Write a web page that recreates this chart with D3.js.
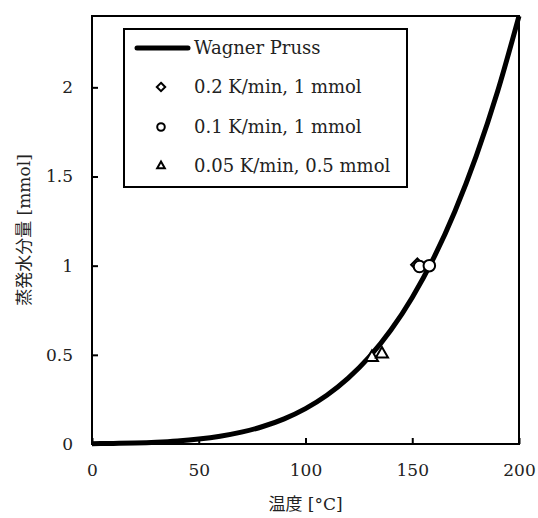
<!DOCTYPE html>
<html>
<head>
<meta charset="utf-8">
<script src="https://cdn.jsdelivr.net/npm/d3@7"></script>
<style>
  body { margin: 0; background: #fff; }
  svg text { font-family: "DejaVu Serif", "Noto Sans CJK JP", serif; fill: #222; }
</style>
</head>
<body>
<div id="chart"></div>
<script>
// Wagner-Pruss saturation curve
const curveT = [0, 10, 20, 30, 40, 50, 60, 70, 80, 90, 100, 110, 120, 130, 140, 150, 160, 170, 180, 190, 200];
const curveN = [0.0016, 0.0032, 0.0058, 0.0102, 0.0172, 0.0279, 0.0437, 0.0664, 0.0981, 0.1411, 0.1985,
  0.2733, 0.3691, 0.4896, 0.639, 0.8219, 1.0423, 1.3055, 1.6161, 1.9779, 2.4];

// measured points
const diamondT = [152.4];
const diamondN = [1.005];
const circleT = [153.4, 158.0];
const circleN = [0.995, 1.0];
const triangleT = [131.1, 135.8];
const triangleN = [0.485, 0.505];

const xTicks = [0, 50, 100, 150, 200];
const yTicks = [0, 0.5, 1, 1.5, 2];

const legendLabels = ['Wagner Pruss', '0.2 K/min, 1 mmol', '0.1 K/min, 1 mmol', '0.05 K/min, 0.5 mmol'];

const width = 538, height = 518;
const margin = {top: 16, right: 19, bottom: 74, left: 92};

const svg = d3.select('#chart').append('svg')
  .attr('width', width)
  .attr('height', height);

const x = d3.scaleLinear().domain([0, 200]).range([margin.left, width - margin.right]);
const y = d3.scaleLinear().domain([0, 2.4]).range([height - margin.bottom, margin.top]);

// axes (ticks inward)
svg.append('g')
  .attr('transform', `translate(0,${y(0)})`)
  .call(d3.axisBottom(x).tickValues(xTicks).tickSize(-6).tickPadding(20).tickFormat(d3.format('d')))
  .call(g => g.select('.domain').remove())
  .call(g => g.selectAll('line').attr('stroke', '#000').attr('stroke-width', 2))
  .call(g => g.selectAll('text').attr('font-size', '17px').attr('font-family', 'DejaVu Serif').attr('fill', '#333'));

svg.append('g')
  .attr('transform', `translate(${x(0)},0)`)
  .call(d3.axisLeft(y).tickValues(yTicks).tickSize(-6).tickPadding(19).tickFormat(d => d))
  .call(g => g.select('.domain').remove())
  .call(g => g.selectAll('line').attr('stroke', '#000').attr('stroke-width', 2))
  .call(g => g.selectAll('text').attr('font-size', '17px').attr('font-family', 'DejaVu Serif').attr('fill', '#333'));

// curve
const line = d3.line()
  .x(d => x(d[0]))
  .y(d => y(d[1]))
  .curve(d3.curveMonotoneX);

svg.append('path')
  .datum(curveT.map((t, i) => [t, curveN[i]]))
  .attr('d', line)
  .attr('fill', 'none')
  .attr('stroke', '#000')
  .attr('stroke-width', 5);

// plot frame
svg.append('rect')
  .attr('x', x(0))
  .attr('y', y(2.4))
  .attr('width', x(200) - x(0))
  .attr('height', y(0) - y(2.4))
  .attr('fill', 'none')
  .attr('stroke', '#000')
  .attr('stroke-width', 2);

// markers
const diamond = d3.symbol().type(d3.symbolDiamond2).size(100);
const circle = d3.symbol().type(d3.symbolCircle).size(105);
const triangle = d3.symbol().type(d3.symbolTriangle2).size(105);

function drawMarkers(ts, ns, sym) {
  svg.append('g').selectAll('path')
    .data(ts.map((t, i) => [t, ns[i]]))
    .enter().append('path')
    .attr('d', sym)
    .attr('transform', d => `translate(${x(d[0])},${y(d[1])})`)
    .attr('fill', '#fff')
    .attr('stroke', '#000')
    .attr('stroke-width', 2);
}
drawMarkers(triangleT, triangleN, triangle);
drawMarkers(diamondT, diamondN, diamond);
drawMarkers(circleT, circleN, circle);

// legend
const legend = svg.append('g');
legend.append('rect')
  .attr('x', 124).attr('y', 29)
  .attr('width', 283).attr('height', 158)
  .attr('fill', '#fff')
  .attr('stroke', '#000')
  .attr('stroke-width', 2);

const rowY = [48, 87, 127, 166];
legend.append('line')
  .attr('x1', 137).attr('x2', 188)
  .attr('y1', rowY[0]).attr('y2', rowY[0])
  .attr('stroke', '#000').attr('stroke-width', 5).attr('stroke-linecap', 'round');

const legendSyms = [null, d3.symbol().type(d3.symbolDiamond2).size(45), d3.symbol().type(d3.symbolCircle).size(45), d3.symbol().type(d3.symbolTriangle2).size(42)];
legendSyms.forEach((s, i) => {
  if (!s) return;
  legend.append('path')
    .attr('d', s)
    .attr('transform', `translate(161,${rowY[i]})`)
    .attr('fill', '#fff')
    .attr('stroke', '#000')
    .attr('stroke-width', 2);
});

legend.selectAll('text.lbl')
  .data(legendLabels)
  .enter().append('text')
  .attr('class', 'lbl')
  .attr('x', 194)
  .attr('y', (d, i) => rowY[i])
  .attr('dy', '0.35em')
  .attr('font-size', '18px')
  .text(d => d);

// axis titles
svg.append('text')
  .attr('x', x(100))
  .attr('y', 504)
  .attr('text-anchor', 'middle')
  .attr('dy', '0.35em')
  .attr('font-size', '17px')
  .text('温度 [°C]');

svg.append('text')
  .attr('transform', `translate(24,${(y(0) + y(2.4)) / 2}) rotate(-90)`)
  .attr('text-anchor', 'middle')
  .attr('dy', '0.35em')
  .attr('font-size', '17px')
  .text('蒸発水分量 [mmol]');
</script>
</body>
</html>
